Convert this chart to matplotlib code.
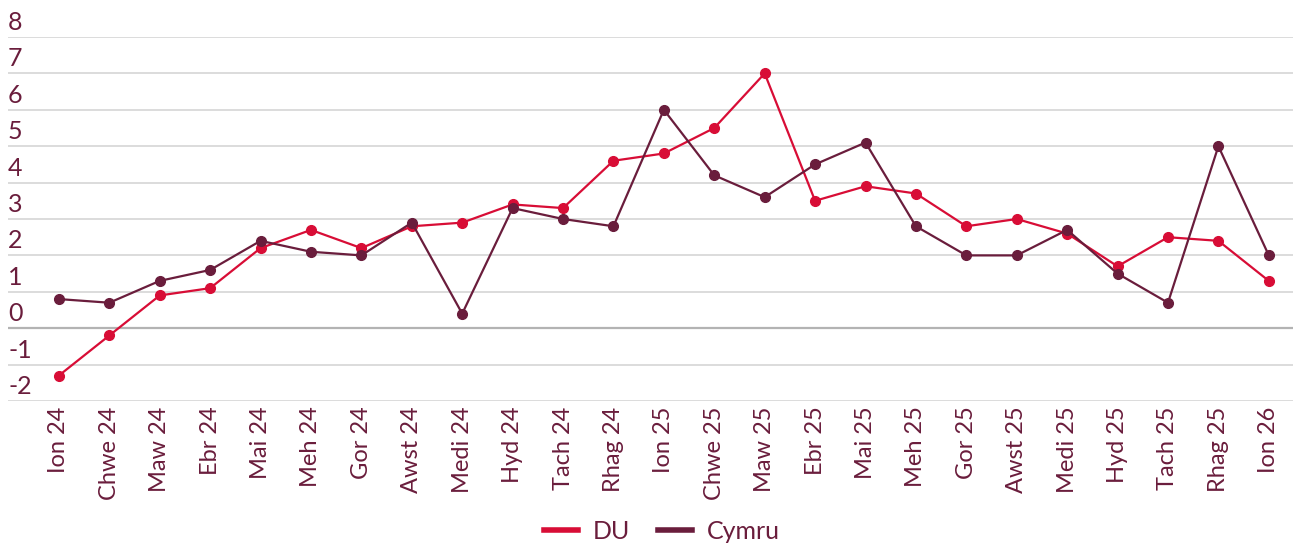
import matplotlib
matplotlib.use("Agg")
import matplotlib.pyplot as plt
import matplotlib.transforms as mtransforms

months = ["Ion 24", "Chwe 24", "Maw 24", "Ebr 24", "Mai 24", "Meh 24", "Gor 24",
          "Awst 24", "Medi 24", "Hyd 24", "Tach 24", "Rhag 24", "Ion 25", "Chwe 25",
          "Maw 25", "Ebr 25", "Mai 25", "Meh 25", "Gor 25", "Awst 25", "Medi 25",
          "Hyd 25", "Tach 25", "Rhag 25", "Ion 26"]
du = [-1.3, -0.2, 0.9, 1.1, 2.2, 2.7, 2.2, 2.8, 2.9, 3.4, 3.3, 4.6, 4.8, 5.5,
      7.0, 3.5, 3.9, 3.7, 2.8, 3.0, 2.6, 1.7, 2.5, 2.4, 1.3]
cymru = [0.8, 0.7, 1.3, 1.6, 2.4, 2.1, 2.0, 2.9, 0.4, 3.3, 3.0, 2.8, 6.0, 4.2,
         3.6, 4.5, 5.1, 2.8, 2.0, 2.0, 2.7, 1.5, 0.7, 5.0, 2.0]
yticks = [-2, -1, 0, 1, 2, 3, 4, 5, 6, 7, 8]

RED = "#D80D36"
DARK = "#6A1D3C"
TXT = "#6A1D3C"

plt.rcParams['font.family'] = ['Lato', 'DejaVu Sans']

fig = plt.figure(figsize=(12.93, 5.46), dpi=100)
ax = fig.add_axes([8/1293, 1 - 401/546, 1 - 8/1293, (401 - 37)/546])

x = list(range(len(months)))
ax.plot(x, du, color=RED, lw=1.6, marker='o', ms=7, label="DU", zorder=3)
ax.plot(x, cymru, color=DARK, lw=1.6, marker='o', ms=7, label="Cymru", zorder=3)

ax.set_ylim(-2, 8)
ax.set_xlim(-1.01, 24.48)
trans = mtransforms.blended_transform_factory(ax.transAxes, ax.transData)
for v in yticks:
    ax.axhline(v, color="#b3b3b3" if v == 0 else "#d9d9d9",
               lw=1.6 if v == 0 else 1.3, zorder=1)
    ax.text(0.0, v + 0.08, str(v), transform=trans, ha='left', va='bottom',
            fontsize=18, color=TXT)
ax.set_yticks([])
ax.set_xticks(x)
ax.set_xticklabels(months, rotation=90, fontsize=17, color=TXT)
ax.tick_params(axis='x', length=0, pad=4)
for s in ax.spines.values():
    s.set_visible(False)

leg = fig.legend(loc='lower center', bbox_to_anchor=(0.512, -0.035), ncol=2,
                 frameon=False, fontsize=18, handlelength=1.35, handletextpad=0.6,
                 columnspacing=1.1)
for h in leg.legend_handles:
    h.set_marker('')
    h.set_linewidth(4)
for t in leg.get_texts():
    t.set_color(TXT)

fig.savefig("out.png", dpi=100)
